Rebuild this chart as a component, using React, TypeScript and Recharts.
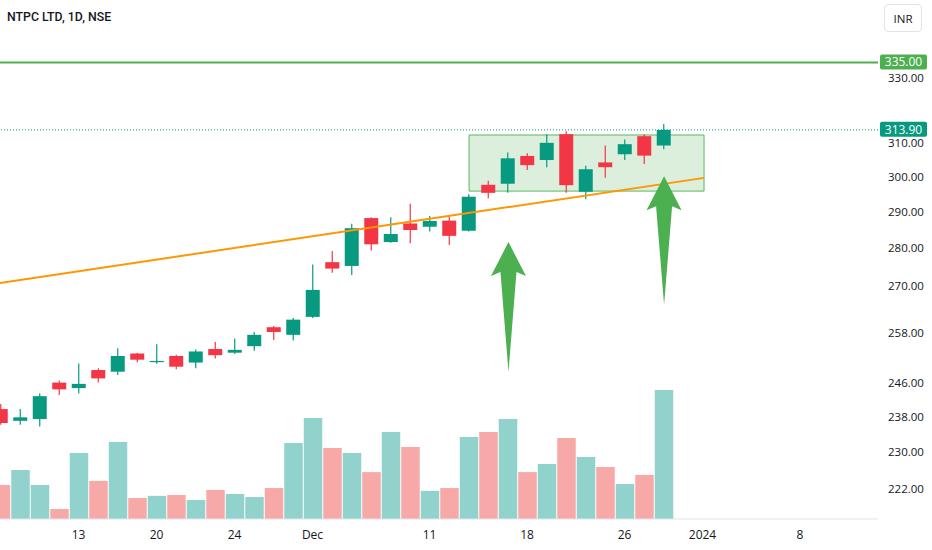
import { ComposedChart, Bar, XAxis, YAxis, Cell, ReferenceLine, ReferenceArea } from 'recharts';

const DATES = [
  '8 Nov', '9 Nov', '10 Nov', '12 Nov', '13 Nov', '15 Nov', '16 Nov', '17 Nov', '20 Nov', '21 Nov',
  '22 Nov', '23 Nov', '24 Nov', '28 Nov', '29 Nov', '30 Nov', '1 Dec', '4 Dec', '5 Dec', '6 Dec',
  '7 Dec', '8 Dec', '11 Dec', '12 Dec', '13 Dec', '14 Dec', '15 Dec', '18 Dec', '19 Dec', '20 Dec',
  '21 Dec', '22 Dec', '26 Dec', '27 Dec', '28 Dec',
];
const OPEN = [
  239.8, 237.1, 237.5, 246.0, 244.7, 249.0, 248.6, 253.0, 250.9, 252.4,
  250.8, 254.1, 253.2, 254.8, 259.5, 257.6, 262.1, 276.3, 275.3, 288.3,
  281.7, 286.8, 285.9, 287.6, 284.8, 297.7, 298.0, 306.1, 304.9, 312.6,
  295.7, 304.2, 306.6, 312.0, 309.2,
];
const HIGH = [
  241.0, 239.8, 243.5, 246.5, 250.6, 249.4, 254.3, 253.1, 255.3, 252.7,
  254.0, 255.8, 256.7, 258.3, 259.8, 261.8, 275.7, 279.3, 286.7, 288.5,
  288.5, 292.3, 288.9, 288.9, 295.0, 298.9, 307.1, 306.9, 312.6, 313.5,
  303.2, 309.2, 311.0, 312.6, 315.7,
];
const LOW = [
  236.2, 236.2, 235.8, 243.1, 243.4, 246.0, 247.8, 250.9, 250.5, 249.2,
  249.4, 251.8, 252.9, 253.7, 256.3, 256.2, 261.8, 273.5, 272.9, 279.4,
  281.5, 281.4, 284.6, 280.9, 284.6, 293.9, 295.4, 302.0, 302.8, 295.4,
  293.6, 299.7, 304.9, 303.7, 308.1,
];
const CLOSE = [
  236.6, 237.9, 242.8, 244.4, 245.7, 247.0, 252.4, 251.5, 251.2, 249.8,
  253.5, 252.6, 253.9, 257.6, 258.3, 261.4, 269.0, 274.6, 285.5, 281.1,
  283.9, 285.0, 287.5, 283.4, 294.3, 295.4, 305.4, 303.4, 310.0, 297.6,
  302.2, 302.8, 309.6, 306.2, 313.9,
];
// volume in millions of shares
const VOLUME = [
  10.9, 15.7, 10.9, 3.2, 21.1, 12.2, 24.6, 6.7, 7.4, 7.7,
  6.1, 9.3, 8.0, 7.0, 9.9, 24.3, 32.3, 22.7, 21.1, 15.0,
  27.8, 23.0, 9.0, 9.9, 26.2, 27.8, 32.0, 15.0, 17.6, 25.9,
  19.8, 16.6, 11.2, 14.1, 41.3,
];

const TIME_TICKS = [4, 8, 12, 16, 22, 27, 32, 36, 41];
const TIME_LABELS = ['13', '20', '24', 'Dec', '11', '18', '26', '2024', '8'];
const PRICE_TICKS = [222, 230, 238, 246, 258, 270, 280, 290, 300, 310, 330];

const RESISTANCE = 335;
const LAST_PRICE = 313.9;
const BOX = { x1: 24.03, x2: 36.08, low: 295.9, high: 312.35 };
const TREND = [{ x: -0.03, y: 270.8 }, { x: 36.08, y: 299.7 }];
const ARROWS = [
  [{ x: 26.05, y: 248.5 }, { x: 26.05, y: 281.7 }],
  [{ x: 34.03, y: 265.1 }, { x: 34.03, y: 300.2 }],
];

const UP = '#089981';
const DOWN = '#f23645';
const UP_VOL = '#92d2cc';
const DOWN_VOL = '#f7a9a7';
const FONT = '"Open Sans", sans-serif';

const data = DATES.map((date, i) => ({
  i,
  date,
  open: OPEN[i],
  high: HIGH[i],
  low: LOW[i],
  close: CLOSE[i],
  volume: VOLUME[i],
}));

const X_DOMAIN = [-0.0256, 45.0];

function Candle(props: any) {
  const { x, y, width, height, payload } = props;
  const { open, close, high, low } = payload;
  const lh = Math.log(high);
  const ll = Math.log(low);
  const toY = (p: number) => (lh === ll ? y : y + (height * (lh - Math.log(p))) / (lh - ll));
  const cx = x + width / 2;
  const color = close >= open ? UP : DOWN;
  const top = toY(Math.max(open, close));
  const bottom = toY(Math.min(open, close));
  return (
    <g>
      <line x1={cx} x2={cx} y1={y} y2={y + height} stroke={color} strokeWidth={1.2} />
      <rect x={x} y={top} width={width} height={Math.max(bottom - top, 1)} fill={color} />
    </g>
  );
}

function Arrow(props: any) {
  const { x1, y1, x2, y2 } = props;
  // tip sits at the higher price (smaller pixel y)
  const tx = x2;
  const ty = Math.min(y1, y2);
  const by = Math.max(y1, y2);
  const pts = [
    [tx, ty],
    [tx + 17.5, ty + 34],
    [tx + 8, ty + 30],
    [x1, by],
    [tx - 8, ty + 30],
    [tx - 17.5, ty + 34],
  ];
  return <polygon points={pts.map((p) => p.join(',')).join(' ')} fill="#4caf50" />;
}

function PriceTag(props: any) {
  const { viewBox, value, color } = props;
  const x = viewBox.x + viewBox.width + 2;
  const y = viewBox.y;
  return (
    <g>
      <rect x={x} y={y - 8} width={47} height={15} rx={2} fill={color} />
      <text x={x + 23.5} y={y + 4} textAnchor="middle" fill="#ffffff" fontSize={12} fontFamily={FONT}>
        {value}
      </text>
    </g>
  );
}

export default function App() {
  return (
    <div style={{ position: 'absolute', left: 0, top: 0, width: 932, height: 550, background: '#ffffff' }}>
      <ComposedChart width={932} height={550} data={data} margin={{ top: 0, right: 0, bottom: 0, left: 0 }}>
        <XAxis
          xAxisId="price"
          dataKey="i"
          type="number"
          domain={X_DOMAIN}
          allowDataOverflow
          ticks={TIME_TICKS}
          tickFormatter={(v: number) => TIME_LABELS[TIME_TICKS.indexOf(v)] ?? ''}
          height={31}
          tickLine={false}
          tickSize={0}
          tickMargin={11}
          axisLine={{ stroke: '#e0e3eb' }}
          tick={{ fill: '#131722', fontSize: 12, fontFamily: FONT }}
          interval={0}
        />
        <XAxis xAxisId="vol" dataKey="i" type="number" domain={X_DOMAIN} allowDataOverflow hide />
        <YAxis
          yAxisId="price"
          orientation="right"
          scale="log"
          domain={[215.68, 355.78]}
          allowDataOverflow
          ticks={PRICE_TICKS}
          tickFormatter={(v: number) => v.toFixed(2)}
          width={54}
          tickLine={false}
          tickSize={0}
          tickMargin={10}
          axisLine={false}
          tick={{ fill: '#131722', fontSize: 11.5, fontFamily: FONT }}
          interval={0}
        />
        <YAxis yAxisId="vol" domain={[0, 166]} allowDataOverflow hide />

        <Bar xAxisId="vol" yAxisId="vol" dataKey="volume" barSize={18.5} isAnimationActive={false}>
          {data.map((d) => (
            <Cell key={d.date} fill={d.close >= d.open ? UP_VOL : DOWN_VOL} />
          ))}
        </Bar>

        <ReferenceArea
          xAxisId="price"
          yAxisId="price"
          x1={BOX.x1}
          x2={BOX.x2}
          y1={BOX.low}
          y2={BOX.high}
          fill="#4caf50"
          fillOpacity={0.2}
          stroke="#4caf50"
          strokeOpacity={0.9}
          ifOverflow="visible"
        />

        <Bar
          xAxisId="price"
          yAxisId="price"
          dataKey={(d: any) => [d.low, d.high]}
          barSize={14}
          shape={(p: any) => <Candle {...p} />}
          isAnimationActive={false}
        />

        <ReferenceLine
          xAxisId="price"
          yAxisId="price"
          segment={TREND}
          stroke="#ff9800"
          strokeWidth={2}
          ifOverflow="visible"
        />
        {ARROWS.map((seg, k) => (
          <ReferenceLine
            key={k}
            xAxisId="price"
            yAxisId="price"
            segment={seg}
            ifOverflow="visible"
            shape={(p: any) => <Arrow {...p} />}
          />
        ))}

        <ReferenceLine
          xAxisId="price"
          yAxisId="price"
          y={LAST_PRICE}
          stroke={UP}
          strokeDasharray="1 2"
          label={<PriceTag value={LAST_PRICE.toFixed(2)} color={UP} />}
        />
        <ReferenceLine
          xAxisId="price"
          yAxisId="price"
          y={RESISTANCE}
          stroke="#4caf50"
          strokeWidth={2}
          label={<PriceTag value={RESISTANCE.toFixed(2)} color="#4caf50" />}
        />
      </ComposedChart>

      <div
        style={{
          position: 'absolute',
          left: 7,
          top: 10,
          fontFamily: 'Roboto, sans-serif',
          fontWeight: 500,
          fontSize: 12.3,
          color: '#131722',
        }}
      >
        NTPC LTD, 1D, NSE
      </div>
      <div
        style={{
          position: 'absolute',
          left: 884,
          top: 4,
          width: 38,
          height: 28,
          border: '1px solid #e0e3eb',
          borderRadius: 4,
          boxSizing: 'border-box',
          display: 'flex',
          alignItems: 'center',
          justifyContent: 'center',
          fontFamily: FONT,
          fontSize: 11.5,
          color: '#131722',
        }}
      >
        INR
      </div>
    </div>
  );
}
